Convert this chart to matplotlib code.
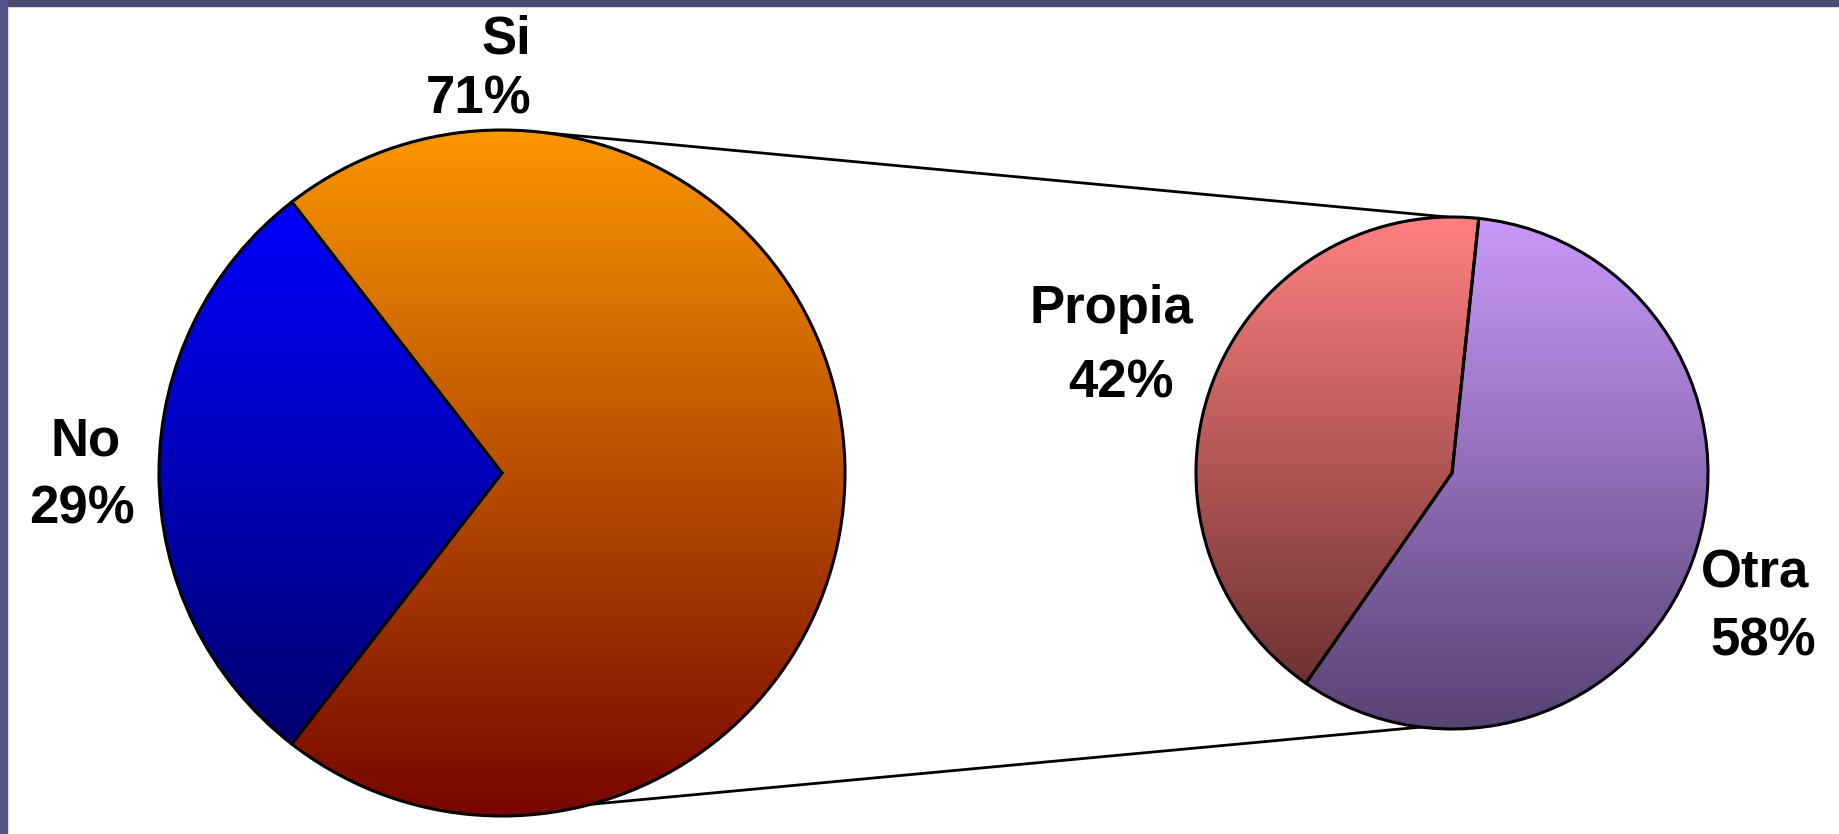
import numpy as np
import matplotlib
matplotlib.use("Agg")
import matplotlib.pyplot as plt
import matplotlib.patches as mpatches

# datos
main_labels = ["No", "Si"]
main_values = [29, 71]
sub_labels = ["Propia", "Otra"]
sub_values = [42, 58]

# colores del degradado (arriba, abajo)
main_grad = [("#0000ff", "#000070"), ("#fa9600", "#780600")]
sub_grad = [("#ff8080", "#6e3232"), ("#c898fa", "#584374")]

W, H = 1840, 834
fam, fsize = "Liberation Sans", 38

fig = plt.figure(figsize=(W / 100, H / 100), dpi=100)
ax = fig.add_axes([0, 0, 1, 1])


def grad_pie(values, start, center, radius, grads):
    wedges, _ = ax.pie(values, startangle=start, center=center, radius=radius,
                       wedgeprops=dict(facecolor="none", edgecolor="black",
                                       linewidth=2.2, zorder=3))
    for wg, (top, bot) in zip(wedges, grads):
        ext = wg.get_path().get_extents()
        c0 = np.array(matplotlib.colors.to_rgb(bot))
        c1 = np.array(matplotlib.colors.to_rgb(top))
        t = np.linspace(0, 1, 256)[:, None, None]
        img = c0 + (c1 - c0) * t
        img = np.repeat(img, 2, axis=1)
        im = ax.imshow(img, extent=[ext.x0, ext.x1, ext.y0, ext.y1],
                       origin="lower", aspect="auto", interpolation="bilinear",
                       zorder=2)
        im.set_clip_path(wg)
    return wedges


c_main, r_main = (502, H - 473), 343
c_sub, r_sub = (1452, H - 473), 256

# No centrado en 180 grados
start_main = 180 - main_values[0] / sum(main_values) * 180
grad_pie(main_values, start_main, c_main, r_main, main_grad)
grad_pie(sub_values, 84, c_sub, r_sub, sub_grad)

# lineas de union
for a1, a2 in [(82.5, 91), (-75, -97)]:
    p1 = (c_main[0] + r_main * np.cos(np.radians(a1)), c_main[1] + r_main * np.sin(np.radians(a1)))
    p2 = (c_sub[0] + r_sub * np.cos(np.radians(a2)), c_sub[1] + r_sub * np.sin(np.radians(a2)))
    ax.plot([p1[0], p2[0]], [p1[1], p2[1]], color="black", lw=2, zorder=1)

# etiquetas: (x nombre, base nombre, x porcentaje, base porcentaje) en pixeles
label_pos = {
    "No": (86, 455, 82, 524),
    "Si": (506, 53, 479, 113),
    "Propia": (1111, 323, 1121, 398),
    "Otra": (1755, 587, 1763, 655),
}
for lab, val in zip(main_labels + sub_labels, main_values + sub_values):
    x1, y1, x2, y2 = label_pos[lab]
    ax.text(x1, H - y1, lab, ha="center", va="baseline", fontsize=fsize,
            fontweight="bold", family=fam, zorder=4)
    ax.text(x2, H - y2, f"{val}%", ha="center", va="baseline", fontsize=fsize,
            fontweight="bold", family=fam, zorder=4)

ax.set_xlim(0, W)
ax.set_ylim(0, H)
ax.set_aspect("equal")
ax.axis("off")

# marco superior e izquierdo
fig.patches.append(mpatches.Rectangle((0, 1 - 6 / H), 1, 6 / H, transform=fig.transFigure,
                                      color="#4c4b72", zorder=5))
fig.patches.append(mpatches.Rectangle((0, 0), 7 / W, 1, transform=fig.transFigure,
                                      color="#56558a", zorder=5))

fig.savefig("out.png", dpi=100, facecolor="white")
